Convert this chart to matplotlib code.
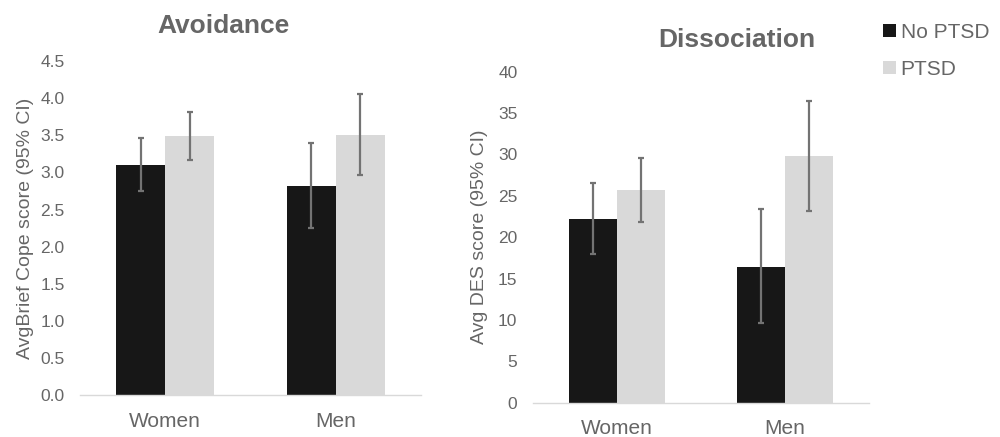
import matplotlib
matplotlib.use("Agg")
import matplotlib.pyplot as plt
import numpy as np
from matplotlib.patches import Patch

plt.rcParams['font.family'] = ['Liberation Sans', 'DejaVu Sans']

categories = ["Women", "Men"]
series = ["No PTSD", "PTSD"]

avoid_no = [3.10, 2.82]
avoid_no_lo = [2.75, 2.25]
avoid_no_hi = [3.46, 3.40]
avoid_ptsd = [3.49, 3.50]
avoid_ptsd_lo = [3.17, 2.96]
avoid_ptsd_hi = [3.82, 4.05]

diss_no = [22.2, 16.4]
diss_no_lo = [18.0, 9.6]
diss_no_hi = [26.5, 23.4]
diss_ptsd = [25.7, 29.8]
diss_ptsd_lo = [21.8, 23.2]
diss_ptsd_hi = [29.6, 36.5]

avoid_ticks = [0.0, 0.5, 1.0, 1.5, 2.0, 2.5, 3.0, 3.5, 4.0, 4.5]
diss_ticks = [0, 5, 10, 15, 20, 25, 30, 35, 40]

BLACK = "#171717"
GREY = "#d9d9d9"
TEXT = "#666666"
ERR = "#737373"

fig = plt.figure(figsize=(10, 4.37), dpi=100)
ax1 = fig.add_axes([0.080, 0.0954, 0.341, 0.765])
ax2 = fig.add_axes([0.5327, 0.0785, 0.3363, 0.7576])

w = 0.286

def draw(ax, no, nlo, nhi, pt, plo, phi, ticks, fmt, ylabel):
    x = np.arange(len(categories))
    no = np.array(no); pt = np.array(pt)
    ax.bar(x - w/2, no, w, color=BLACK, zorder=2)
    ax.bar(x + w/2, pt, w, color=GREY, zorder=2)
    ax.errorbar(x - w/2, no, yerr=[no - np.array(nlo), np.array(nhi) - no],
                fmt='none', ecolor=ERR, elinewidth=1.6, capsize=2.5, capthick=1.6, zorder=3)
    ax.errorbar(x + w/2, pt, yerr=[pt - np.array(plo), np.array(phi) - pt],
                fmt='none', ecolor=ERR, elinewidth=1.6, capsize=2.5, capthick=1.6, zorder=3)
    ax.set_xlim(-0.5, 1.5)
    ax.set_ylim(ticks[0], ticks[-1])
    ax.set_yticks(ticks)
    ax.set_yticklabels([fmt.format(t) for t in ticks], color=TEXT, fontsize=12.5)
    ax.set_xticks(x)
    ax.set_xticklabels(categories, color=TEXT, fontsize=15)
    ax.tick_params(axis='y', length=0, pad=11)
    ax.tick_params(axis='x', length=0, pad=12)
    for s in ['top', 'right', 'left']:
        ax.spines[s].set_visible(False)
    ax.spines['bottom'].set_color(GREY)
    ax.spines['bottom'].set_linewidth(1.0)
    ax.set_ylabel(ylabel, color=TEXT, fontsize=14)

draw(ax1, avoid_no, avoid_no_lo, avoid_no_hi, avoid_ptsd, avoid_ptsd_lo, avoid_ptsd_hi,
     avoid_ticks, "{:.1f}", "AvgBrief Cope score (95% CI)")
draw(ax2, diss_no, diss_no_lo, diss_no_hi, diss_ptsd, diss_ptsd_lo, diss_ptsd_hi,
     diss_ticks, "{:d}", "Avg DES score (95% CI)")

ax1.yaxis.set_label_coords(-0.136, 0.5)
ax2.yaxis.set_label_coords(-0.133, 0.5)

fig.text(0.2235, 1 - 33/437, "Avoidance", ha='center', va='baseline', fontsize=19,
         fontweight='bold', color=TEXT)
fig.text(0.7367, 1 - 46.7/437, "Dissociation", ha='center', va='baseline', fontsize=19,
         fontweight='bold', color=TEXT)

handles = [Patch(facecolor=BLACK, label=series[0]), Patch(facecolor=GREY, label=series[1])]
fig.legend(handles=handles, loc='upper left', bbox_to_anchor=(0.883, 1 - 23/437),
           frameon=False, fontsize=15, labelcolor=TEXT, handlelength=0.6,
           handleheight=0.6, handletextpad=0.25, labelspacing=0.85,
           borderpad=0, borderaxespad=0)

fig.savefig("out.png", dpi=100)
